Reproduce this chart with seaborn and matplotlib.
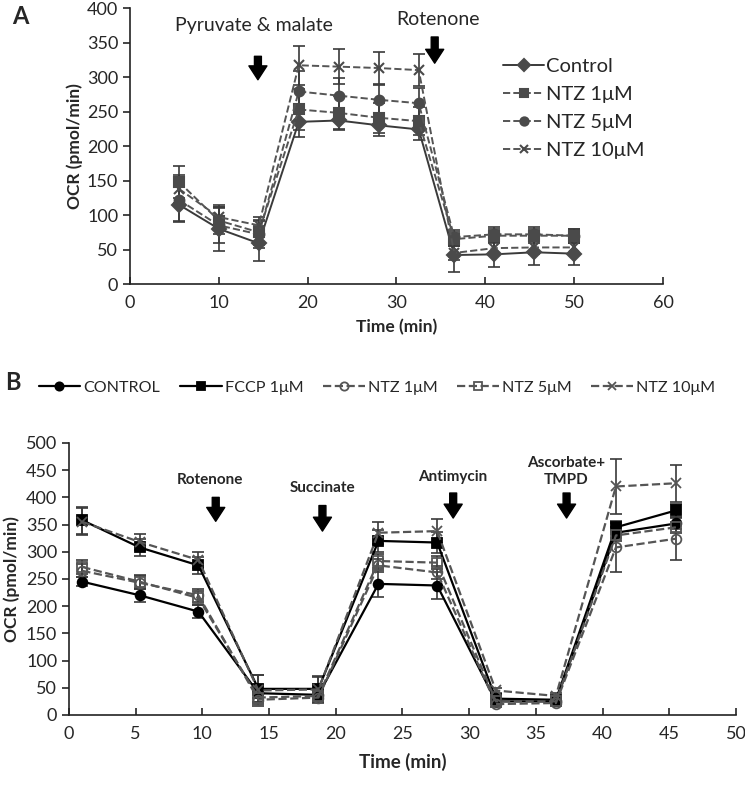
import numpy as np
import pandas as pd
import matplotlib
matplotlib.use("Agg")
import matplotlib.pyplot as plt
import seaborn as sns

# Panel A data
time_a = [5.5, 10, 14.5, 19, 23.5, 28, 32.5, 36.5, 41, 45.5, 50]
control_a = [115, 80, 59, 235, 237, 230, 224, 42, 43, 46, 44]
ntz1_a = [148, 92, 75, 253, 248, 241, 236, 65, 70, 70, 70]
ntz5_a = [122, 85, 72, 279, 273, 267, 262, 68, 72, 72, 70]
ntz10_a = [138, 97, 85, 317, 315, 313, 310, 45, 52, 53, 53]
control_a_err = [25, 32, 25, 22, 12, 15, 15, 24, 18, 18, 16]
ntz1_a_err = [23, 20, 18, 30, 25, 22, 20, 10, 10, 10, 10]
ntz5_a_err = [30, 25, 20, 30, 25, 22, 22, 10, 10, 10, 10]
ntz10_a_err = [20, 18, 12, 28, 25, 23, 23, 10, 10, 10, 10]
labels_a = ["Control", "NTZ 1\u03bcM", "NTZ 5\u03bcM", "NTZ 10\u03bcM"]

# Panel B data
time_b = [1, 5.3, 9.7, 14.2, 18.7, 23.2, 27.6, 32, 36.5, 41, 45.5]
control_b = [245, 220, 190, 40, 37, 241, 238, 25, 25, 335, 352]
fccp_b = [358, 308, 275, 48, 48, 320, 317, 30, 28, 345, 376]
ntz1_b = [265, 243, 220, 28, 32, 275, 262, 20, 22, 308, 324]
ntz5_b = [272, 245, 215, 32, 35, 283, 280, 25, 25, 330, 345]
ntz10_b = [355, 318, 285, 45, 47, 335, 338, 45, 35, 420, 426]
control_b_err = [8, 12, 12, 8, 8, 25, 25, 5, 5, 10, 10]
fccp_b_err = [25, 15, 15, 25, 22, 20, 20, 5, 5, 12, 12]
ntz1_b_err = [12, 12, 12, 8, 8, 12, 12, 5, 5, 45, 40]
ntz5_b_err = [12, 12, 12, 8, 8, 12, 12, 5, 5, 10, 10]
ntz10_b_err = [25, 15, 15, 28, 25, 20, 22, 5, 5, 50, 34]
labels_b = ["CONTROL", "FCCP 1\u03bcM", "NTZ 1\u03bcM", "NTZ 5\u03bcM", "NTZ 10\u03bcM"]

sns.set_style("ticks")
plt.rcParams["font.family"] = ["Lato", "DejaVu Sans"]

fig = plt.figure(figsize=(7.45, 7.85), dpi=100)
ax_a = fig.add_axes([0.1745, 0.6382, 0.7154, 0.3516])
ax_b = fig.add_axes([0.0926, 0.0892, 0.8953, 0.3465])

# ---- panel A
styles_a = [
    (control_a, control_a_err, "D", "-", "#3a3a3a"),
    (ntz1_a, ntz1_a_err, "s", "--", "#555555"),
    (ntz5_a, ntz5_a_err, "o", "--", "#555555"),
    (ntz10_a, ntz10_a_err, "x", "--", "#555555"),
]
for (vals, err, mk, ls, col), lab in zip(styles_a, labels_a):
    ax_a.errorbar(time_a, vals, yerr=err, fmt="none", ecolor="#3a3a3a",
                  elinewidth=1.2, capsize=4, capthick=1.2, zorder=2)
    sns.lineplot(x=time_a, y=vals, ax=ax_a, color=col, linestyle=ls,
                 linewidth=1.4, marker=mk, markersize=7,
                 markerfacecolor="#4a4a4a", markeredgecolor="#4a4a4a",
                 markeredgewidth=1.5, label=lab, zorder=3)

ax_a.set_xlim(0, 60)
ax_a.set_ylim(0, 400)
ax_a.set_xticks(range(0, 61, 10))
ax_a.set_yticks(range(0, 401, 50))
ax_a.set_xlabel("Time (min)", fontsize=12.5, fontweight="bold", labelpad=6)
ax_a.set_ylabel("OCR (pmol/min)", fontsize=12.5, fontweight="bold", labelpad=3)
ax_a.tick_params(axis="both", labelsize=13, length=5, width=1.2)
ax_a.tick_params(axis="x", direction="in", pad=8)
ax_a.legend(loc="upper left", bbox_to_anchor=(0.685, 0.85), frameon=False,
            fontsize=14.5, handlelength=2.05, labelspacing=0.55,
            handletextpad=0.1, borderaxespad=0, markerscale=0.85)

ax_a.text(14.0, 374, "Pyruvate & malate", fontsize=14, ha="center", va="center")
ax_a.text(34.7, 383, "Rotenone", fontsize=14, ha="center", va="center")
for x, y0, y1 in [(14.4, 330, 296), (34.3, 358, 320)]:
    ax_a.annotate("", xy=(x, y1), xytext=(x, y0),
                  arrowprops=dict(facecolor="black", edgecolor="black",
                                  width=5, headwidth=13, headlength=10))

# ---- panel B
styles_b = [
    (control_b, control_b_err, "o", "-", "black", "black"),
    (fccp_b, fccp_b_err, "s", "-", "black", "black"),
    (ntz1_b, ntz1_b_err, "o", "--", "#555555", "none"),
    (ntz5_b, ntz5_b_err, "s", "--", "#555555", "none"),
    (ntz10_b, ntz10_b_err, "x", "--", "#555555", "none"),
]
for (vals, err, mk, ls, col, fc), lab in zip(styles_b, labels_b):
    ax_b.errorbar(time_b, vals, yerr=err, fmt="none", ecolor="#3a3a3a",
                  elinewidth=1.2, capsize=4, capthick=1.2, zorder=2)
    sns.lineplot(x=time_b, y=vals, ax=ax_b, color=col, linestyle=ls,
                 linewidth=1.6, marker=mk, markersize=7,
                 markerfacecolor=fc, markeredgecolor=col,
                 markeredgewidth=1.3, label=lab, zorder=3)

ax_b.set_xlim(0, 50)
ax_b.set_ylim(0, 500)
ax_b.set_xticks(range(0, 51, 5))
ax_b.set_yticks(range(0, 501, 50))
ax_b.set_xlabel("Time (min)", fontsize=13.5, fontweight="bold", labelpad=8)
ax_b.set_ylabel("OCR (pmol/min)", fontsize=12.5, fontweight="bold", labelpad=4)
ax_b.tick_params(axis="both", labelsize=13, length=5, width=1.2)
ax_b.tick_params(axis="x", direction="in", pad=8)
handles, labs = ax_b.get_legend_handles_labels()
ax_b.legend_.remove()
fig.legend(handles, labs, loc="center", bbox_to_anchor=(0.506, 1 - 388 / 785),
           ncol=5, frameon=False, fontsize=11.6, handlelength=2.6,
           columnspacing=1.2, handletextpad=0.2, markerscale=0.85)

for x, txt, ty, y0, y1 in [(10.6, "Rotenone", 432, 400, 356),
                           (19.0, "Succinate", 417, 385, 338),
                           (28.8, "Antimycin", 437, 408, 362),
                           (37.3, "Ascorbate+\nTMPD", 448, 408, 362)]:
    ax_b.text(x, ty, txt, fontsize=11, fontweight="bold", ha="center",
              va="center", linespacing=1.3)
    ax_b.annotate("", xy=(x + (0.4 if txt == "Rotenone" else 0), y1),
                  xytext=(x + (0.4 if txt == "Rotenone" else 0), y0),
                  arrowprops=dict(facecolor="black", edgecolor="black",
                                  width=5, headwidth=13, headlength=10))

for ax in (ax_a, ax_b):
    sns.despine(ax=ax)
    for s in ("left", "bottom"):
        ax.spines[s].set_linewidth(1.2)
        ax.spines[s].set_color("#222222")

fig.text(12 / 745, 1 - 16 / 785, "A", fontsize=17, fontweight="bold", va="center")
fig.text(5 / 745, 1 - 382 / 785, "B", fontsize=17, fontweight="bold", va="center")

fig.savefig("out.png", dpi=100)
